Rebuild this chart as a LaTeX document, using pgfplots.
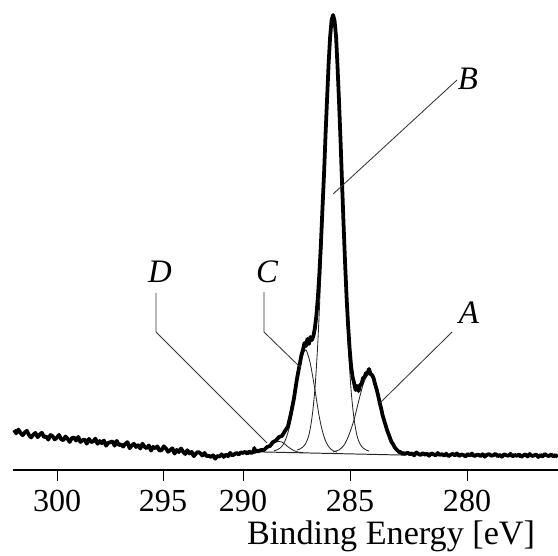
\documentclass[border=0pt]{standalone}
\usepackage{pgfplots}
\pgfplotsset{compat=1.18}
\usepackage{fontspec}
\setmainfont{Liberation Serif}
\begin{document}
\begin{tikzpicture}
\begin{axis}[
  scale only axis, width=390.68pt, height=336.92pt,
  at={(0pt,0pt)}, anchor=south west,
  xmin=275.28, xmax=300.75, x dir=reverse,
  ymin=0, ymax=470,
  axis x line*=bottom, axis y line=none,
  xtick={298.69,293.74,290,285,279.53},
  xticklabels={300,295,290,285,280},
  tick align=outside, major tick length=7.9pt,
  x axis line style={line width=0.8pt, -},
  every tick/.style={black, line width=0.7pt},
  xticklabel style={font=\fontsize{23}{27}\selectfont, anchor=base, yshift=-22.2pt},
  clip=false,
]
% background (baseline)
\addplot[black!85, line width=0.7pt] coordinates {(289.44,18.2) (282.43,14.9)};
% component D
\addplot[black!85, line width=0.6pt, smooth, tension=0.5] coordinates {
(289.44,18.4) (289.30,18.6) (289.16,19.0) (289.02,20.1) (288.88,21.6) (288.74,23.6) (288.60,26.1) (288.46,28.0) (288.32,28.6) (288.18,27.9) (288.04,25.8) (287.90,23.2) (287.76,21.1) (287.62,19.4) (287.48,18.2) (287.34,17.7) (287.20,17.4)};
% component C
\addplot[black!85, line width=0.6pt, smooth, tension=0.5] coordinates {
(288.55,19.2) (288.41,20.1) (288.27,21.9) (288.13,25.3) (287.99,31.5) (287.85,41.4) (287.71,55.3) (287.57,74.3) (287.43,92.2) (287.29,108.2) (287.15,118.1) (287.08,120.1) (287.01,118) (286.87,108) (286.73,91.9) (286.59,73.8) (286.45,54.8) (286.31,40.7) (286.17,30.6) (286.03,24.4) (285.89,20.8) (285.75,18.8) (285.61,17.9)};
% component B
\addplot[black!85, line width=0.6pt, smooth, tension=0.5] coordinates {
(287.48,20) (287.34,21) (287.20,23) (287.06,27) (286.92,35) (286.78,52) (286.64,81) (286.50,129) (286.36,197) (286.21,280) (286.07,364) (285.93,428) (285.86,445) (285.79,451) (285.72,444) (285.65,427) (285.51,363) (285.37,279) (285.23,196) (285.09,128) (284.95,80) (284.81,51) (284.67,34) (284.53,26) (284.39,22) (284.25,20) (284.11,19)};
% component A
\addplot[black!85, line width=0.6pt, smooth, tension=0.5] coordinates {
(285.79,18.1) (285.65,19) (285.51,20.1) (285.37,22.5) (285.23,26.6) (285.09,32.9) (284.95,40.9) (284.81,50.4) (284.67,62.3) (284.53,74.3) (284.39,85.4) (284.25,92.5) (284.11,95.7) (283.97,92.4) (283.83,85.1) (283.69,73.9) (283.55,61.8) (283.41,49.8) (283.27,40.1) (283.13,32) (282.99,25.6) (282.85,21.3) (282.71,18.8) (282.57,17.6) (282.43,16.5)};
% measured spectrum
\addplot[black, line width=2.7pt, line join=round] coordinates {
(300.7,40) (300.6,36.7) (300.5,40.4) (300.4,37.1) (300.3,34.8) (300.2,37.5) (300.1,39.2) (300.0,34.9) (299.9,32.6) (299.8,35.4) (299.7,37.1) (299.6,32.8) (299.5,35.5) (299.4,37.2) (299.3,32.9) (299.2,33.6) (299.1,30.3) (299.0,35) (298.9,33.8) (298.8,30.6) (298.7,32.3) (298.6,35.1) (298.5,30.9) (298.4,29.7) (298.3,33.5) (298.2,31.3) (298.1,28) (298.0,31.8) (297.9,32.6) (297.8,29.4) (297.7,33.2) (297.6,28) (297.5,29.7) (297.4,30.5) (297.3,26.3) (297.2,31.1) (297.1,27.9) (297.0,28.7) (296.9,31.4) (296.8,26.2) (296.7,29) (296.6,26.8) (296.5,29.5) (296.4,24.3) (296.3,27.1) (296.2,27.8) (296.1,28.6) (296.0,24.3) (295.9,29.1) (295.8,24.9) (295.7,25.6) (295.6,23.4) (295.5,26.2) (295.4,27.9) (295.3,21.7) (295.2,24.5) (295.1,26.2) (295.0,23) (294.9,24.8) (294.8,21.5) (294.7,26.3) (294.6,23.1) (294.5,21.8) (294.4,24.6) (294.3,19.4) (294.2,23.1) (294.1,21.8) (294.0,23.6) (293.9,19.3) (293.8,20) (293.7,23.7) (293.6,21.5) (293.5,18.2) (293.4,19.9) (293.3,21.7) (293.2,16.4) (293.1,20.1) (293.0,17.9) (292.9,21.6) (292.8,18.3) (292.7,16) (292.6,19.8) (292.5,16.5) (292.4,18.2) (292.3,13.8) (292.2,16.5) (292.1,18.1) (292.0,16.8) (291.9,14.4) (291.8,17.1) (291.7,13.7) (291.6,14.4) (291.5,13) (291.4,14.7) (291.3,11.3) (291.2,14) (291.1,13.4) (291.0,15.7) (290.9,13.1) (290.8,15.4) (290.7,13.8) (290.6,17.1) (290.5,14.5) (290.4,15.8) (290.3,17.1) (290.2,15.4) (290.1,17.7) (290.0,17) (289.9,18.2) (289.8,16.4) (289.7,18.6) (289.6,16.8) (289.5,19) (289.47,22)
(289.44,18) (289.37,19.5) (289.30,18.6) (289.16,20) (289.02,20) (288.88,23) (288.74,24) (288.60,28) (288.46,29.5) (288.32,33) (288.18,34) (288.04,39) (287.90,43.5) (287.76,56.5) (287.62,71.5) (287.48,91) (287.34,107) (287.27,115) (287.20,120) (287.13,127) (287.06,124) (286.99,131) (286.92,126) (286.85,133) (286.78,130) (286.71,134) (286.64,142) (286.57,155) (286.50,173) (286.43,197) (286.36,226) (286.29,260) (286.21,298) (286.14,337) (286.07,372) (286.00,406) (285.93,433) (285.86,450) (285.79,455) (285.72,449) (285.65,433) (285.58,402) (285.51,367) (285.44,328) (285.37,286) (285.30,245) (285.23,207) (285.16,173) (285.09,145) (285.02,122) (284.95,104) (284.88,93) (284.81,87) (284.74,80) (284.67,84) (284.60,79) (284.53,85) (284.46,86) (284.39,92) (284.32,93) (284.25,97) (284.18,97) (284.11,101) (284.04,96) (283.97,95) (283.90,92) (283.83,86) (283.76,81) (283.69,75) (283.62,68) (283.55,62) (283.48,55) (283.41,50) (283.34,45) (283.27,40) (283.20,36) (283.13,32) (283.06,28) (282.99,26) (282.92,23) (282.85,21) (282.78,19.5) (282.71,18) (282.64,18) (282.57,16.5) (282.50,17) (282.43,16)
(282.3,17.3) (282.2,15.7) (282.1,16.7) (282.0,14.6) (281.9,17.6) (281.8,16) (281.7,15) (281.6,16.9) (281.5,15.3) (281.4,16.3) (281.3,14.2) (281.2,16.7) (281.1,15.6) (281.0,14.6) (280.9,17) (280.8,15) (280.7,15.9) (280.6,14.4) (280.5,16.3) (280.4,13.8) (280.3,15.2) (280.2,16.2) (280.1,14.6) (280.0,16.6) (279.9,14) (279.8,15.5) (279.7,15) (279.6,13.5) (279.5,16) (279.4,14.4) (279.3,16.4) (279.2,13.9) (279.1,14.9) (279.0,15.4) (278.9,13.9) (278.8,15.8) (278.7,13.3) (278.6,15.3) (278.5,15.8) (278.4,14.3) (278.3,14.8) (278.2,16.2) (278.1,13.7) (278.0,15.2) (277.9,13.2) (277.8,15.7) (277.7,14.7) (277.6,14.2) (277.5,16.1) (277.4,13.6) (277.3,15.1) (277.2,14.1) (277.1,15.6) (277.0,13.1) (276.9,14.6) (276.8,15.6) (276.7,13.5) (276.6,16) (276.5,14) (276.4,14.5) (276.3,15.5) (276.2,13) (276.1,15) (276.0,13.5) (275.9,16) (275.8,14.5) (275.7,14) (275.6,15.5) (275.5,13.5) (275.4,15) (275.3,13)};
% labels and leader lines
\draw[black!80, line width=0.6pt] (axis cs:280.23,138) -- (axis cs:283.60,67);
\draw[black!80, line width=0.6pt] (axis cs:280.0,390) -- (axis cs:285.79,276);
\draw[black!80, line width=0.6pt] (axis cs:289.02,178) -- (axis cs:289.02,138) -- (axis cs:287.29,102);
\draw[black!80, line width=0.6pt] (axis cs:294.07,177) -- (axis cs:294.07,138) -- (axis cs:288.88,27);
\node[font=\fontsize{23.5}{28}\selectfont\itshape] at (axis cs:279.44,157) {A};
\node[font=\fontsize{23.5}{28}\selectfont\itshape] at (axis cs:279.49,391) {B};
\node[font=\fontsize{23.5}{28}\selectfont\itshape] at (axis cs:288.88,198) {C};
\node[font=\fontsize{23.5}{28}\selectfont\itshape] at (axis cs:293.88,198) {D};
\node[font=\fontsize{24.5}{29}\selectfont, anchor=base] at (axis cs:283.08,-75) {Binding Energy [eV]};
\end{axis}
\pgfresetboundingbox
\path[use as bounding box] (-9.32pt,-61.65pt) rectangle (390.68pt,336.92pt);
\end{tikzpicture}
\end{document}
